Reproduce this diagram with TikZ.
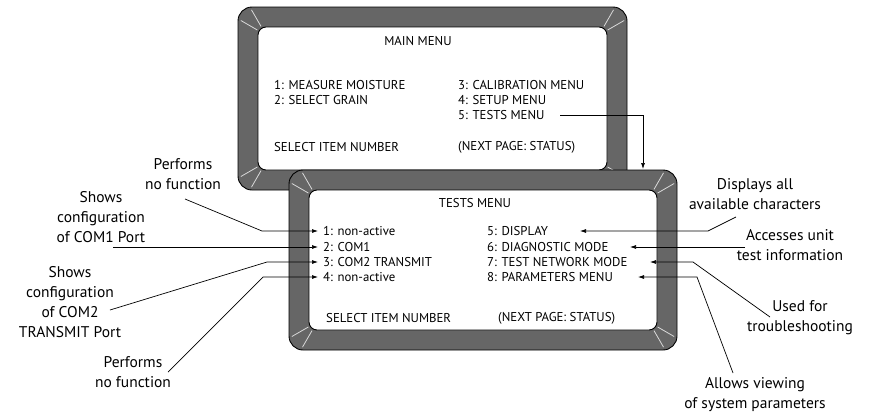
\documentclass[tikz,border=0pt]{standalone}
\usepackage{fontspec}
\setmainfont{PT Sans}
\usetikzlibrary{arrows.meta,calc}
\definecolor{bezelgray}{RGB}{102,102,102}
% screen bezel: outer top-left (#1,#2), outer bottom-right (#3,#4)
\newcommand{\bezel}[4]{%
  \draw[bezelout] (#1,#2) rectangle (#3,#4);
  \draw[bezelin] (#1+20,#2+20) rectangle (#3-20,#4-20);
  \foreach \a in {210,240} \draw[tick] (#1+28,#2+28) ++(\a:10) -- ++(\a:19);
  \foreach \a in {300,330} \draw[tick] (#3-28,#2+28) ++(\a:10) -- ++(\a:19);
  \foreach \a in {30,60} \draw[tick] (#3-28,#4-28) ++(\a:10) -- ++(\a:19);
  \foreach \a in {120,150} \draw[tick] (#1+28,#4-28) ++(\a:10) -- ++(\a:19);
}

\begin{document}
\begin{tikzpicture}[x=1pt,y=-1pt,
  bezelout/.style={draw=black,fill=bezelgray,line width=0.9pt,rounded corners=14pt},
  bezelin/.style={draw=black,fill=white,line width=0.9pt,rounded corners=8pt},
  tick/.style={draw=white!85!black,line width=0.8pt},
  menu/.style={anchor=west,inner sep=0pt,font=\fontsize{12.8}{14}\selectfont},
  title/.style={menu,anchor=center},
  note/.style={align=center,inner sep=0pt,font=\fontsize{15.5}{20}\selectfont},
  lead/.style={-{Latex[length=6pt,width=4pt]},line width=0.7pt}]
  \useasboundingbox (0,0) rectangle (873,413);
  % main menu screen
  \bezel{238}{7}{627}{190}
  \node[title] (m0) at (418,41) {MAIN MENU};
  \node[menu] (m1) at (274,85) {1: MEASURE MOISTURE};
  \node[menu] (m2) at (274,100) {2: SELECT GRAIN};
  \node[menu] (m3) at (458,85) {3: CALIBRATION MENU};
  \node[menu] (m4) at (458,100) {4: SETUP MENU};
  \node[menu] (m5) at (458,115) {5: TESTS MENU};
  \node[menu] (ms) at (274,147) {SELECT ITEM NUMBER};
  \node[menu] (mn) at (458,147) {(NEXT PAGE: STATUS)};
  \coordinate (tin) at (643,169);
  \draw[lead] (560,0 |- m5.east) -| (tin);
  % tests menu screen
  \bezel{289}{170}{677}{350}
  \node[title] (t0) at (475,203) {TESTS MENU};
  \node[menu] (t1) at (323,231) {1: non-active};
  \node[menu] (t2) at (323,247) {2: COM1};
  \node[menu] (t3) at (323,262) {3: COM2 TRANSMIT};
  \node[menu] (t4) at (323,277) {4: non-active};
  \node[menu] (t5) at (487,231) {5: DISPLAY};
  \node[menu] (t6) at (487,247) {6: DIAGNOSTIC MODE};
  \node[menu] (t7) at (487,262) {7: TEST NETWORK MODE};
  \node[menu] (t8) at (487,277) {8: PARAMETERS MENU};
  \node[menu] (ts) at (326,318) {SELECT ITEM NUMBER};
  \node[menu] (tn) at (498,318) {(NEXT PAGE: STATUS)};
  % notes, left
  \node[note] (pfa) at (183,174) {Performs\\no function};
  \node[note] (sc1) at (101,217) {Shows\\configuration\\of COM1 Port};
  \node[note] (sc2) at (70,302) {Shows\\configuration\\of COM2\\TRANSMIT Port};
  \node[note] (pfb) at (133,372) {Performs\\no function};
  \draw[lead] ($(pfa.center)+(2,25)$) -- ([xshift=-61pt]t1.west) -- ([xshift=-5pt]t1.west);
  \draw[lead] (113,0 |- t2.west) -- ([xshift=-5pt]t2.west);
  \draw[lead] ($(sc2.center)+(40,8)$) -- ([xshift=-56pt]t3.west) -- ([xshift=-5pt]t3.west);
  \draw[lead] ($(pfb.center)+(35,0)$) -- ([xshift=-60pt]t4.west) -- ([xshift=-5pt]t4.west);
  % notes, right
  \node[note] (dac) at (755,194) {Displays all\\available characters};
  \node[note] (aut) at (790,245) {Accesses unit\\test information};
  \node[note] (uft) at (800,318) {Used for\\troubleshooting};
  \node[note] (avs) at (755,395) {Allows viewing\\of system parameters};
  \draw[lead] ($(dac.center)+(-19,23)$) -- (708,0 |- t5.east) -- (580,0 |- t5.east);
  \draw[lead] (745,0 |- t6.east) -- (630,0 |- t6.east);
  \draw[lead] ($(uft.center)+(-30,-1)$) -- (693,0 |- t7.east) -- (650,0 |- t7.east);
  \draw[lead] ($(avs.center)+(-22,-22)$) -- (697,0 |- t8.east) -- (638,0 |- t8.east);
\end{tikzpicture}
\end{document}
